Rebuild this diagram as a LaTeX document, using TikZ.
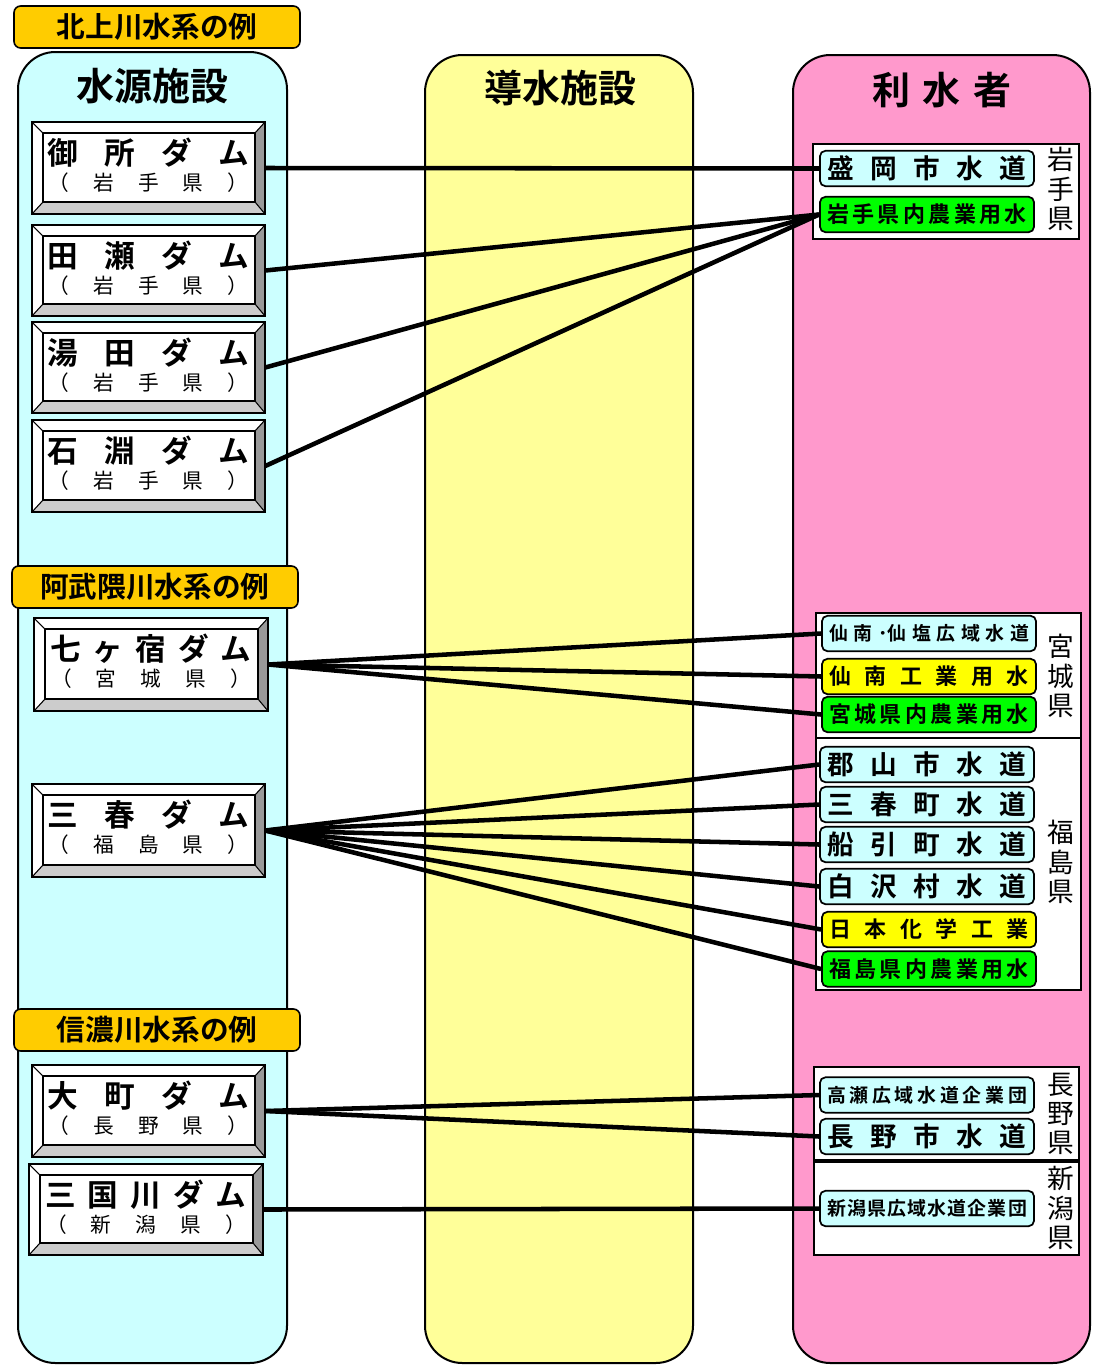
\documentclass[tikz,border=0pt]{standalone}
\usepackage{fontspec}
\setmainfont{Noto Sans CJK JP}[BoldFont={Noto Sans CJK JP Bold}]
\usetikzlibrary{fit}

\definecolor{srccyan}{HTML}{CCFFFF}
\definecolor{conveyyel}{HTML}{FFFF99}
\definecolor{userpink}{HTML}{FF99CC}
\definecolor{tagGold}{HTML}{FFCC00}
\definecolor{boxcyan}{HTML}{CCFFFF}
\definecolor{boxgreen}{HTML}{00FF00}
\definecolor{boxyellow}{HTML}{FFFF00}
\definecolor{bevdark}{HTML}{999999}
\definecolor{bevlight}{HTML}{CCCCCC}

% spread a row of characters evenly over a fixed width
\newcommand\spreadtxt[2]{\makebox[#1][s]{#2}}

% bevelled dam box: name, x1, y1, x2, y2, dam name, prefecture
\newcommand\dambox[7]{%
  \fill[white] (#2,#3) rectangle (#4,#5);
  \fill[bevdark] (#4,#3) -- (#4,#5) -- (#4-10,#5-12) -- (#4-10,#3+11) -- cycle;
  \fill[bevlight] (#2,#5) -- (#4,#5) -- (#4-10,#5-12) -- (#2+11,#5-12) -- cycle;
  \draw[line width=1.1pt] (#2,#3) rectangle (#4,#5);
  \draw[line width=1.1pt] (#2+11,#3+11) rectangle (#4-10,#5-12);
  \draw[line width=0.8pt] (#2,#3) -- (#2+11,#3+11) (#4,#3) -- (#4-10,#3+11)
        (#2,#5) -- (#2+11,#5-12) (#4,#5) -- (#4-10,#5-12);
  \node[fit={(#2,#3) (#4,#5)}, inner sep=0pt] (#1) {};
  \node[damtop] at ({(#2+#4)/2},{#3+31}) {\spreadtxt{151pt}{#6}};
  \node[dambot] at ({(#2+#4)/2},{#3+61}) {\spreadtxt{150pt}{#7}};
}

\tikzset{
  column/.style={draw=black, line width=1.5pt, rounded corners=28pt},
  header/.style={font=\bfseries\fontsize{28.5}{30}\selectfont, inner sep=0pt},
  tag/.style={draw, fill=tagGold, line width=1.2pt, rounded corners=5pt, inner sep=0pt,
    minimum width=214.5pt, minimum height=31.5pt, font=\bfseries\fontsize{21.5}{24}\selectfont},
  damtop/.style={inner sep=0pt, font=\bfseries\fontsize{23}{25}\selectfont},
  dambot/.style={inner sep=0pt, font=\fontsize{15.5}{17}\selectfont},
  ubox/.style={draw, line width=1.3pt, rounded corners=4pt, inner sep=0pt,
    minimum width=160.5pt, minimum height=26.5pt},
  bigtxt/.style={font=\bfseries\fontsize{20}{22}\selectfont},
  midtxt/.style={font=\bfseries\fontsize{16.5}{18}\selectfont},
  smalltxt/.style={font=\bfseries\fontsize{14.2}{16}\selectfont},
  prefbox/.style={draw, fill=white, line width=1pt},
  preflabel/.style={align=center, inner sep=0pt, font=\fontsize{20}{22}\selectfont},
  conn/.style={line width=3.4pt},
}

\begin{document}
\begin{tikzpicture}[x=0.75pt,y=-0.75pt]
\useasboundingbox (0,0) rectangle (1093,1365);

% three columns
\draw[column, fill=srccyan] (18,52) rectangle (287,1363);
\draw[column, fill=conveyyel] (425,55) rectangle (693,1363);
\draw[column, fill=userpink] (793,55) rectangle (1090,1363);

\node[header] (hdrSource) at (152,86) {水源施設};
\node[header] (hdrConvey) at (560,88) {導水施設};
\node[header] (hdrUser) at (942,90) {\spreadtxt{104pt}{利\hfill 水\hfill 者}};

% river system tags
\node[tag] (tagKitakami) at (157,27) {北上川水系の例};
\node[tag] (tagAbukuma) at (155,587) {阿武隈川水系の例};
\node[tag] (tagShinano) at (157,1030) {信濃川水系の例};

% dams
\dambox{gosho}{32}{122}{265}{214}{御\hfill 所\hfill ダ\hfill ム}{（\hfill 岩\hfill 手\hfill 県\hfill ）}
\dambox{tase}{32}{225}{265}{316}{田\hfill 瀬\hfill ダ\hfill ム}{（\hfill 岩\hfill 手\hfill 県\hfill ）}
\dambox{yuda}{32}{322}{265}{413}{湯\hfill 田\hfill ダ\hfill ム}{（\hfill 岩\hfill 手\hfill 県\hfill ）}
\dambox{ishibuchi}{32}{420}{265}{512}{石\hfill 淵\hfill ダ\hfill ム}{（\hfill 岩\hfill 手\hfill 県\hfill ）}
\dambox{shichikashuku}{34}{618}{268}{711}{七\hfill ヶ\hfill 宿\hfill ダ\hfill ム}{（\hfill 宮\hfill 城\hfill 県\hfill ）}
\dambox{miharu}{32}{784}{265}{877}{三\hfill 春\hfill ダ\hfill ム}{（\hfill 福\hfill 島\hfill 県\hfill ）}
\dambox{omachi}{32}{1065}{265}{1157}{大\hfill 町\hfill ダ\hfill ム}{（\hfill 長\hfill 野\hfill 県\hfill ）}
\dambox{sagurigawa}{29}{1164}{263}{1255}{三\hfill 国\hfill 川\hfill ダ\hfill ム}{（\hfill 新\hfill 潟\hfill 県\hfill ）}

% prefecture groups
\draw[prefbox] (813,144) rectangle (1079,239);
\draw[prefbox] (816,613) rectangle (1081,738);
\draw[prefbox] (816,738) rectangle (1081,990);
\draw[prefbox] (814,1067) rectangle (1079,1160);
\draw[prefbox] (814,1162) rectangle (1079,1255);

\node[preflabel] (lblIwate) at (1061,189) {岩\\手\\県};
\node[preflabel] (lblMiyagi) at (1061,676) {宮\\城\\県};
\node[preflabel] (lblFukushima) at (1061,862) {福\\島\\県};
\node[preflabel] (lblNagano) at (1061,1114) {長\\野\\県};
\node[preflabel] (lblNiigata) at (1061,1208) {新\\潟\\県};

% water users
\node[ubox, fill=boxcyan, bigtxt] (morioka) at (927,168.5) {\spreadtxt{149pt}{盛\hfill 岡\hfill 市\hfill 水\hfill 道}};
\node[ubox, fill=boxgreen, midtxt] (iwateAgri) at (927,214.5) {\spreadtxt{150pt}{岩\hfill 手\hfill 県\hfill 内\hfill 農\hfill 業\hfill 用\hfill 水}};

\node[ubox, fill=boxcyan, smalltxt] (sennanSenen) at (929,633.5) {\spreadtxt{150pt}{仙\hfill 南\hfill ･仙\hfill 塩\hfill 広\hfill 域\hfill 水\hfill 道}};
\node[ubox, fill=boxyellow, midtxt] (sennanInd) at (929,676.5) {\spreadtxt{150pt}{仙\hfill 南\hfill 工\hfill 業\hfill 用\hfill 水}};
\node[ubox, fill=boxgreen, midtxt] (miyagiAgri) at (929,714.5) {\spreadtxt{150pt}{宮\hfill 城\hfill 県\hfill 内\hfill 農\hfill 業\hfill 用\hfill 水}};

\node[ubox, fill=boxcyan, bigtxt] (koriyama) at (927,764.5) {\spreadtxt{149pt}{郡\hfill 山\hfill 市\hfill 水\hfill 道}};
\node[ubox, fill=boxcyan, bigtxt] (miharuTown) at (927,804.5) {\spreadtxt{149pt}{三\hfill 春\hfill 町\hfill 水\hfill 道}};
\node[ubox, fill=boxcyan, bigtxt] (funehiki) at (927,844.5) {\spreadtxt{149pt}{船\hfill 引\hfill 町\hfill 水\hfill 道}};
\node[ubox, fill=boxcyan, bigtxt] (shirasawa) at (927,886.5) {\spreadtxt{149pt}{白\hfill 沢\hfill 村\hfill 水\hfill 道}};
\node[ubox, fill=boxyellow, midtxt] (nipponKagaku) at (929,929.5) {\spreadtxt{150pt}{日\hfill 本\hfill 化\hfill 学\hfill 工\hfill 業}};
\node[ubox, fill=boxgreen, midtxt] (fukushimaAgri) at (929,969) {\spreadtxt{150pt}{福\hfill 島\hfill 県\hfill 内\hfill 農\hfill 業\hfill 用\hfill 水}};

\node[ubox, fill=boxcyan, smalltxt] (takase) at (927,1095) {\spreadtxt{150pt}{高\hfill 瀬\hfill 広\hfill 域\hfill 水\hfill 道\hfill 企\hfill 業\hfill 団}};
\node[ubox, fill=boxcyan, bigtxt] (naganoCity) at (927,1136.5) {\spreadtxt{149pt}{長\hfill 野\hfill 市\hfill 水\hfill 道}};
\node[ubox, fill=boxcyan, smalltxt] (niigataWide) at (927,1208.5) {\spreadtxt{150pt}{新\hfill 潟\hfill 県\hfill 広\hfill 域\hfill 水\hfill 道\hfill 企\hfill 業\hfill 団}};

% supply connections
\draw[conn] (gosho.east) -- (morioka.west);
\draw[conn] (tase.east) -- (iwateAgri.west);
\draw[conn] (yuda.east) -- (iwateAgri.west);
\draw[conn] (ishibuchi.east) -- (iwateAgri.west);

\draw[conn] (shichikashuku.east) -- (sennanSenen.west);
\draw[conn] (shichikashuku.east) -- (sennanInd.west);
\draw[conn] (shichikashuku.east) -- (miyagiAgri.west);

\draw[conn] (miharu.east) -- (koriyama.west);
\draw[conn] (miharu.east) -- (miharuTown.west);
\draw[conn] (miharu.east) -- (funehiki.west);
\draw[conn] (miharu.east) -- (shirasawa.west);
\draw[conn] (miharu.east) -- (nipponKagaku.west);
\draw[conn] (miharu.east) -- (fukushimaAgri.west);

\draw[conn] (omachi.east) -- (takase.west);
\draw[conn] (omachi.east) -- (naganoCity.west);
\draw[conn] (sagurigawa.east) -- (niigataWide.west);
\end{tikzpicture}
\end{document}
